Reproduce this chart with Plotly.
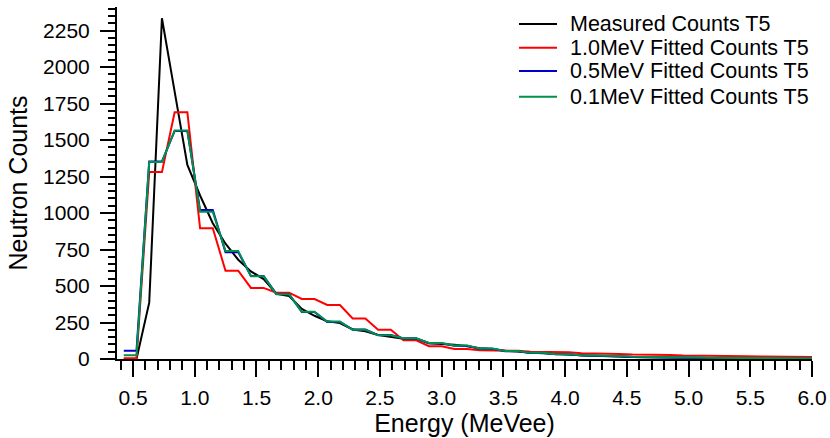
import plotly.graph_objects as go

energy = [0.425, 0.528, 0.631, 0.734, 0.837, 0.940, 1.043, 1.146, 1.249, 1.352,
          1.455, 1.558, 1.661, 1.764, 1.867, 1.970, 2.073, 2.176, 2.279, 2.382,
          2.485, 2.588, 2.691, 2.794, 2.897, 3.000, 3.103, 3.206, 3.309, 3.412,
          3.515, 3.618, 3.721, 3.824, 3.927, 4.030, 4.133, 4.236, 4.339, 4.442,
          4.545, 4.648, 4.751, 4.854, 4.957, 5.060, 5.163, 5.266, 5.369, 5.472,
          5.575, 5.678, 5.781, 5.884, 5.987, 6.090]

measured = [0, 0, 386, 2334, 1831, 1329, 1120, 930, 790, 680,
            600, 547, 447, 432, 343, 296, 258, 246, 202, 190,
            164, 152, 138, 140, 108, 102, 98, 88, 74, 68,
            56, 51, 42, 39, 33, 30, 25, 22, 18, 16,
            13, 12, 10, 9, 8, 7, 7, 6, 6, 5,
            5, 5, 4, 4, 4, 4]

fit_1p0 = [5, 5, 1280, 1280, 1690, 1690, 895, 895, 605, 605,
           487, 487, 454, 454, 411, 411, 370, 370, 278, 278,
           201, 201, 128, 128, 88, 88, 69, 69, 60, 60,
           56, 56, 50, 50, 46, 46, 39, 39, 35, 35,
           30, 30, 27, 27, 24, 24, 21, 21, 19, 19,
           17, 17, 14, 14, 12, 12]

fit_0p5 = [57, 57, 1352, 1352, 1562, 1562, 1020, 1020, 732, 732,
           568, 568, 445, 445, 322, 322, 254, 254, 202, 202,
           164, 164, 140, 140, 108, 108, 90, 90, 70, 70,
           53, 53, 41, 41, 32, 32, 24, 24, 19, 19,
           14, 14, 11, 11, 9, 9, 7, 7, 6, 6,
           5, 5, 4, 4, 3, 3]

fit_0p1 = [25, 25, 1350, 1350, 1565, 1565, 1008, 1008, 740, 740,
           566, 566, 443, 443, 324, 324, 256, 256, 200, 200,
           162, 162, 142, 142, 110, 110, 92, 92, 72, 72,
           54, 54, 42, 42, 33, 33, 25, 25, 20, 20,
           15, 15, 12, 12, 10, 10, 8, 8, 7, 7,
           6, 6, 5, 5, 4, 4]

series_names = ["Measured Counts T5", "1.0MeV Fitted Counts T5",
                "0.5MeV Fitted Counts T5", "0.1MeV Fitted Counts T5"]
series_colors = ["#000000", "#ff0000", "#0000c8", "#00914b"]

x_tickvals = [0.5, 1.0, 1.5, 2.0, 2.5, 3.0, 3.5, 4.0, 4.5, 5.0, 5.5, 6.0]
x_ticktext = ["0.5", "1.0", "1.5", "2.0", "2.5", "3.0", "3.5", "4.0", "4.5", "5.0", "5.5", "6.0"]
y_tickvals = [0, 250, 500, 750, 1000, 1250, 1500, 1750, 2000, 2250]

FONT = "Arial, Liberation Sans, Helvetica, sans-serif"

fig = go.Figure()
for name, ys, col in zip(series_names, [measured, fit_1p0, fit_0p5, fit_0p1], series_colors):
    fig.add_trace(go.Scatter(x=energy, y=ys, mode="lines", name=name,
                             line=dict(color=col, width=2), showlegend=False))

# legend drawn as line samples + labels (compact row spacing as in the reference)
leg_rows = [0.9517, 0.8844, 0.8182, 0.7452]
for name, col, yy in zip(series_names, series_colors, leg_rows):
    fig.add_shape(type="line", xref="paper", yref="paper",
                  x0=0.5784, x1=0.6331, y0=yy, y1=yy,
                  line=dict(color=col, width=2))
    fig.add_annotation(xref="paper", yref="paper", x=0.6489, y=yy,
                       xanchor="left", yanchor="middle", text=name,
                       showarrow=False, font=dict(size=21.5, color="black"))

fig.update_layout(
    width=830, height=438,
    margin=dict(l=117, r=18, t=7, b=79),
    plot_bgcolor="white", paper_bgcolor="white",
    font=dict(family=FONT, size=21, color="black"),
    showlegend=False,
)
fig.update_xaxes(
    range=[0.37, 6.0], showgrid=False, zeroline=False,
    showline=True, linecolor="black", linewidth=2,
    ticks="outside", ticklen=16, tickwidth=2, tickcolor="black",
    tickvals=x_tickvals, ticktext=x_ticktext,
    minor=dict(dtick=0.1, tick0=0.0, ticks="outside", ticklen=9, tickwidth=2, tickcolor="black"),
    title=dict(text="Energy (MeVee)", standoff=6),
    ticklabelstandoff=3,
    automargin=False,
)
fig.update_yaxes(
    range=[0, 2411], showgrid=False, zeroline=False,
    showline=True, linecolor="black", linewidth=2,
    ticks="outside", ticklen=15, tickwidth=2, tickcolor="black",
    tickvals=y_tickvals,
    minor=dict(dtick=50, tick0=0, ticks="outside", ticklen=7, tickwidth=2, tickcolor="black"),
    title=dict(text="Neutron Counts", standoff=8),
    ticklabelstandoff=6,
    automargin=False,
)

fig.write_html("out.html", config={"displayModeBar": False},
               post_script="document.body.style.margin='0';document.body.style.overflow='hidden';")
